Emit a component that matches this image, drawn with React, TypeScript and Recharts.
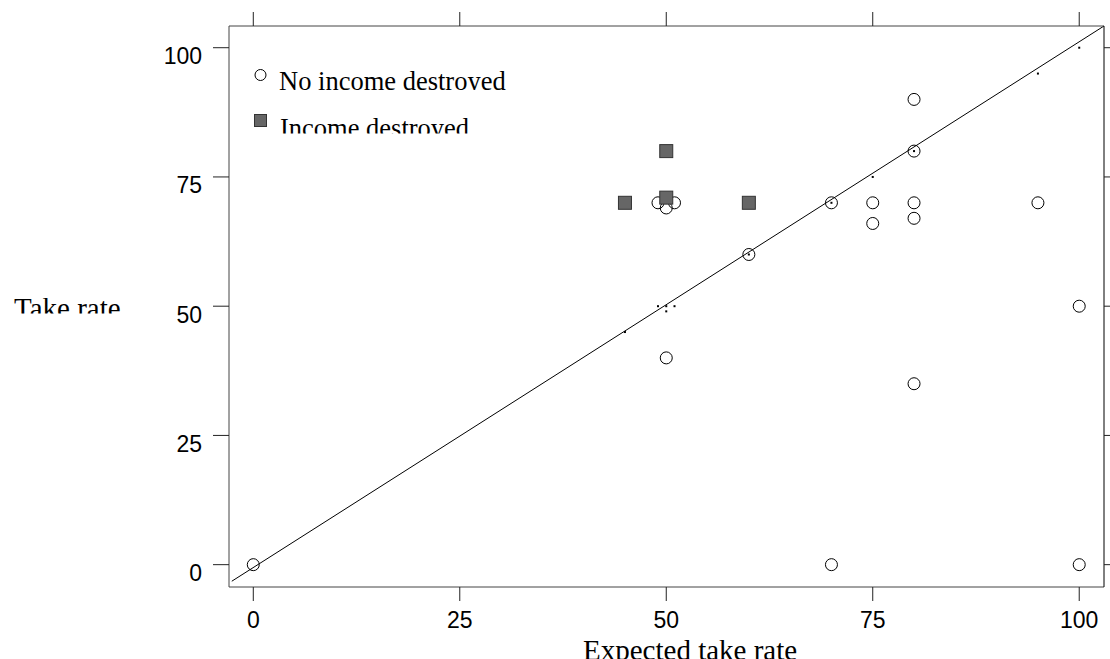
import React from 'react';
import { ScatterChart, Scatter, XAxis, YAxis, ReferenceLine } from 'recharts';

const tickValues = [0, 25, 50, 75, 100];
const xDomain = [-2.94, 103];
const yDomain = [-4.32, 104.2];

const noIncomeDestroyed = [
  { x: 0, y: 0 },
  { x: 49, y: 70 },
  { x: 50, y: 69 },
  { x: 51, y: 70 },
  { x: 50, y: 40 },
  { x: 60, y: 60 },
  { x: 70, y: 70 },
  { x: 70, y: 0 },
  { x: 75, y: 70 },
  { x: 75, y: 66 },
  { x: 80, y: 90 },
  { x: 80, y: 80 },
  { x: 80, y: 70 },
  { x: 80, y: 67 },
  { x: 80, y: 35 },
  { x: 95, y: 70 },
  { x: 100, y: 50 },
  { x: 100, y: 0 },
];

const incomeDestroyed = [
  { x: 45, y: 70 },
  { x: 50, y: 80 },
  { x: 50, y: 71 },
  { x: 60, y: 70 },
];

const smallDots = [
  { x: 45, y: 45 },
  { x: 49, y: 50 },
  { x: 50, y: 50 },
  { x: 51, y: 50 },
  { x: 50, y: 49 },
  { x: 60, y: 60 },
  { x: 70, y: 70 },
  { x: 75, y: 75 },
  { x: 80, y: 80 },
  { x: 95, y: 95 },
  { x: 100, y: 100 },
];

const diagonal = [
  { x: -2.6, y: -3.2 },
  { x: 103, y: 104.2 },
];

const legendLabels = ['No income destroyed', 'Income destroyed'];
const yTitle = 'Take rate';
const xTitle = 'Expected take rate';

const SANS = '"Liberation Sans", Arial, sans-serif';
const SERIF = '"Liberation Serif", "Times New Roman", serif';

const YTick = (props: any) => {
  const { x, y, payload } = props;
  return (
    <text x={x} y={y + 16.5} textAnchor="end" fontFamily={SANS} fontSize={23} fill="#000">
      {payload.value}
    </text>
  );
};

const XTick = (props: any) => {
  const { x, y, payload } = props;
  return (
    <text x={x} y={y + 16.7} textAnchor="middle" fontFamily={SANS} fontSize={23} fill="#000">
      {payload.value}
    </text>
  );
};

const NoTick = () => <g />;

const CircleShape = (props: any) => {
  const { cx, cy } = props;
  return <circle cx={cx} cy={cy} r={6} fill="none" stroke="#000" strokeWidth={1} />;
};

const SquareShape = (props: any) => {
  const { cx, cy } = props;
  return <rect x={cx - 6.5} y={cy - 6.5} width={13} height={13} fill="#666" stroke="#333" strokeWidth={1} />;
};

const DotShape = (props: any) => {
  const { cx, cy } = props;
  return <rect x={cx - 1} y={cy - 1} width={2} height={2} fill="#000" />;
};

export default function App() {
  return (
    <div style={{ position: 'absolute', left: 0, top: 0, width: 1110, height: 659, background: '#fff' }}>
      <ScatterChart width={1110} height={659} margin={{ top: 25, right: 5, bottom: 0, left: 0 }}>
        <XAxis
          xAxisId={0}
          type="number"
          dataKey="x"
          domain={xDomain}
          allowDataOverflow
          ticks={tickValues}
          orientation="bottom"
          height={72}
          tickSize={14}
          tickMargin={10}
          tick={XTick}
          axisLine={{ stroke: '#444' }}
          tickLine={{ stroke: '#222' }}
        />
        <XAxis
          xAxisId="top"
          type="number"
          dataKey="x"
          domain={xDomain}
          allowDataOverflow
          ticks={tickValues}
          orientation="top"
          height={1}
          tickSize={14}
          tick={NoTick}
          axisLine={{ stroke: '#444' }}
          tickLine={{ stroke: '#222' }}
        />
        <YAxis
          yAxisId={0}
          type="number"
          dataKey="y"
          domain={yDomain}
          allowDataOverflow
          ticks={tickValues}
          orientation="left"
          width={229}
          tickSize={16}
          tickMargin={11}
          tick={YTick}
          axisLine={{ stroke: '#444' }}
          tickLine={{ stroke: '#222' }}
        />
        <YAxis
          yAxisId="right"
          type="number"
          dataKey="y"
          domain={yDomain}
          allowDataOverflow
          ticks={tickValues}
          orientation="right"
          width={1}
          tickSize={12}
          tick={NoTick}
          axisLine={{ stroke: '#000' }}
          tickLine={{ stroke: '#222' }}
        />
        <ReferenceLine
          xAxisId={0}
          yAxisId={0}
          segment={diagonal}
          stroke="#000"
          strokeWidth={1}
          ifOverflow="visible"
        />
        <Scatter data={noIncomeDestroyed} shape={CircleShape} isAnimationActive={false} />
        <Scatter data={incomeDestroyed} shape={SquareShape} isAnimationActive={false} />
        <Scatter data={smallDots} shape={DotShape} isAnimationActive={false} />
        <Scatter
          data={[]}
          xAxisId="top"
          yAxisId="right"
          shape={DotShape}
          isAnimationActive={false}
        />
      </ScatterChart>
      <svg
        width={1110}
        height={659}
        style={{ position: 'absolute', left: 0, top: 0, pointerEvents: 'none' }}
      >
        <defs>
          <clipPath id="clipLeg1">
            <rect x={0} y={0} width={1110} height={90} />
          </clipPath>
          <clipPath id="clipLeg2">
            <rect x={0} y={100} width={1110} height={33.5} />
          </clipPath>
          <clipPath id="clipYTitle">
            <rect x={0} y={280} width={230} height={33.5} />
          </clipPath>
        </defs>
        <circle cx={260.5} cy={75} r={5.5} fill="#fff" stroke="#000" strokeWidth={1} />
        <text x={279} y={89.5} fontFamily={SERIF} fontSize={26.5} fill="#000" clipPath="url(#clipLeg1)">
          {legendLabels[0]}
        </text>
        <rect x={254.5} y={114.5} width={12} height={12} fill="#666" stroke="#333" strokeWidth={1} />
        <text x={280} y={136.8} fontFamily={SERIF} fontSize={26.5} fill="#000" clipPath="url(#clipLeg2)">
          {legendLabels[1]}
        </text>
        <text x={14} y={317.5} fontFamily={SERIF} fontSize={29} fill="#000" clipPath="url(#clipYTitle)">
          {yTitle}
        </text>
        <text x={583} y={660} fontFamily={SERIF} fontSize={29} fill="#000">
          {xTitle}
        </text>
      </svg>
    </div>
  );
}
